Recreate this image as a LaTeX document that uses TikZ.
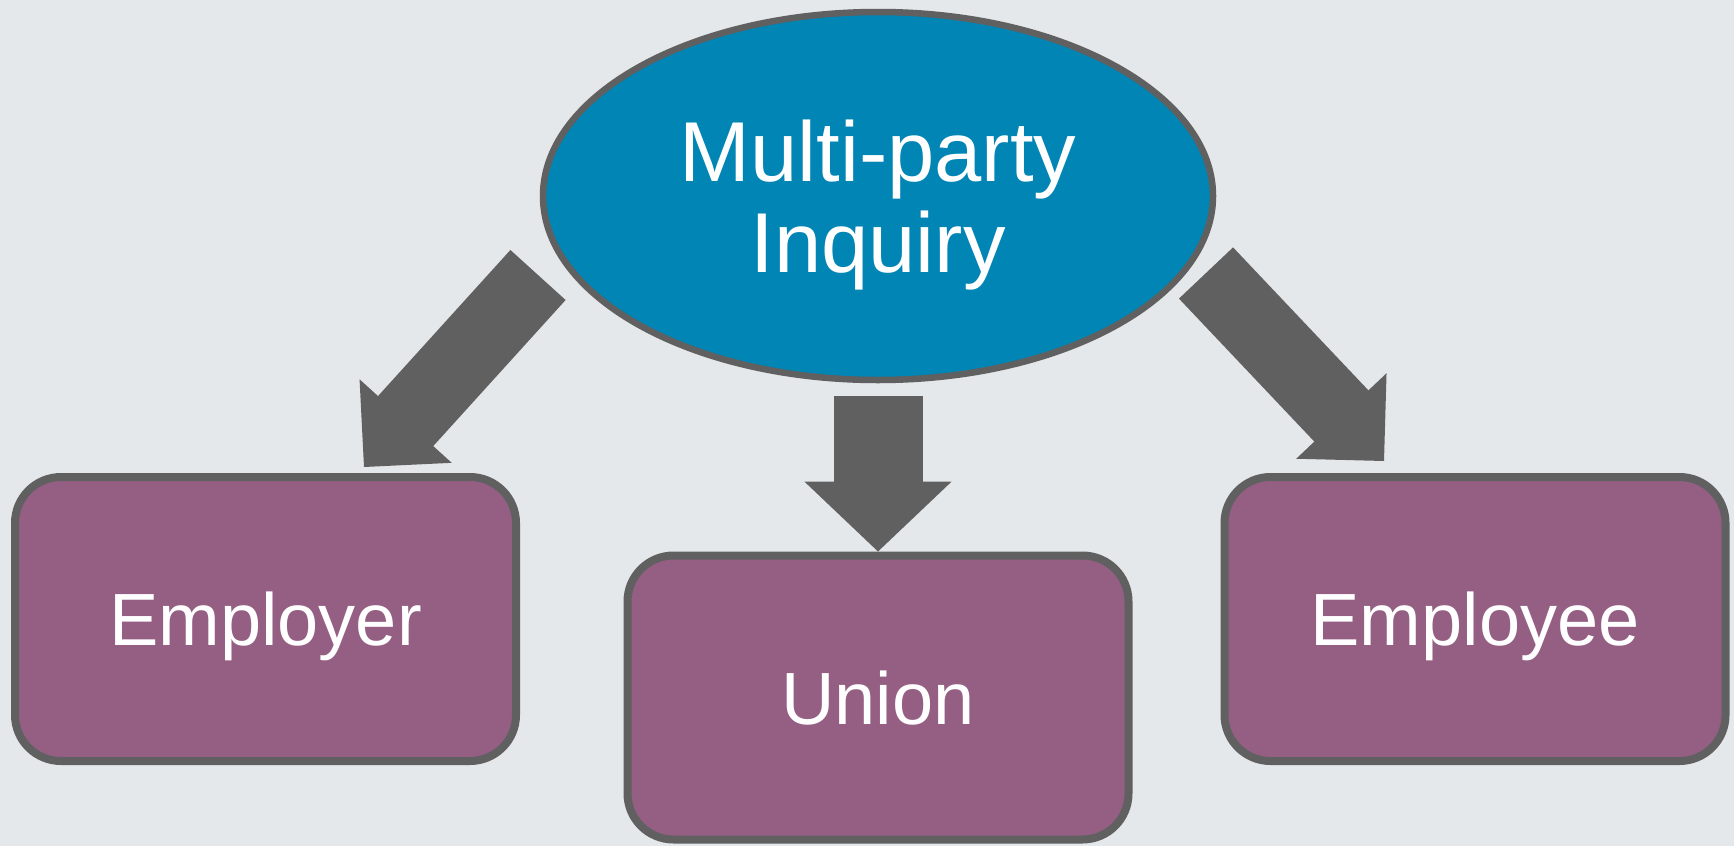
\documentclass[tikz,border=0pt]{standalone}
\usepackage{fontspec}
\setmainfont{Liberation Sans}
\usetikzlibrary{arrows.meta,shapes.geometric}

\definecolor{bggray}{RGB}{228,232,235}
\definecolor{inqblue}{RGB}{0,133,180}
\definecolor{partypurple}{RGB}{149,94,131}
\definecolor{edgegray}{RGB}{96,96,96}

\tikzset{
  party/.style={draw=edgegray,line width=8pt,fill=partypurple,rounded corners=46pt,
    minimum width=501pt,minimum height=284pt,inner sep=0pt,text=white,
    text depth=0pt,font=\fontsize{74}{80}\selectfont},
  bigarrow/.style={draw=edgegray,line width=74.5pt,
    -{Triangle[length=62pt,width=124pt,line width=2pt,fill=edgegray]}},
}

\begin{document}
\begin{tikzpicture}[x=1pt,y=-1pt]
        \useasboundingbox (0,0) rectangle (1734,846);
        \fill[bggray] (0,0) rectangle (1734,846);
        \node[ellipse,draw=edgegray,line width=6.5pt,fill=inqblue,
          minimum width=670pt,minimum height=368pt,inner sep=0pt,
          text=white,align=center,text depth=0pt,
          font=\fontsize{85}{90.7}\selectfont] (inq) at (878,196) {Multi-party\\Inquiry};
        \begin{scope}[every node/.style={party}]
          \node (employer) at (265.5,619) {Employer};
          \node (union) at (878,697.5) {Union};
          \node (employee) at (1475,619) {Employee};
        \end{scope}
        \coordinate (l-from) at (538,275);
        \coordinate (l-to) at (364,467);
        \coordinate (r-from) at (1206,273);
        \coordinate (r-to) at (1384,461);
        \begin{scope}[every edge/.style={bigarrow}]
          \path (l-from) edge (l-to);
          \path (r-from) edge (r-to);
          \path (inq) edge[line width=89pt,shorten <=13pt,
            -{Triangle[length=70pt,width=147pt,line width=2pt,fill=edgegray]}] (union);
        \end{scope}
      \end{tikzpicture}
\end{document}
